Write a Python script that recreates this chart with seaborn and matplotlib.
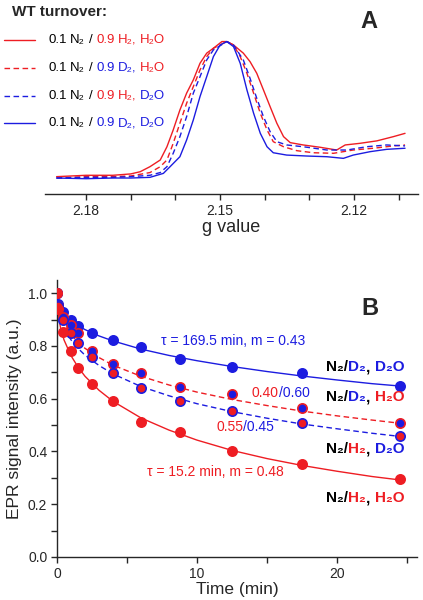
import matplotlib
matplotlib.use('Agg')
import matplotlib.pyplot as plt
import pandas as pd
import seaborn as sns
from matplotlib.lines import Line2D
from matplotlib.offsetbox import TextArea, HPacker, AnnotationBbox, DrawingArea
from matplotlib.ticker import FixedLocator, MultipleLocator, FormatStrFormatter

RED = '#ee1d23'
BLUE = '#1c1ce0'

# ---- Panel A: EPR spectra, g value vs normalised intensity
g_h2_h2o = [2.1866, 2.1800, 2.1740, 2.1700, 2.1679, 2.1657, 2.1634, 2.1619, 2.1605, 2.1590, 2.1575,
            2.1560, 2.1545, 2.1530, 2.1515, 2.1496, 2.1485, 2.1470, 2.1448, 2.1433, 2.1418, 2.1403,
            2.1388, 2.1373, 2.1358, 2.1343, 2.1314, 2.1276, 2.1239, 2.1220, 2.1187, 2.1149, 2.1112, 2.1086]
i_h2_h2o = [0.01, 0.02, 0.02, 0.03, 0.046, 0.083, 0.132, 0.229, 0.352, 0.498, 0.621,
            0.718, 0.840, 0.914, 0.950, 0.999, 0.999, 0.974, 0.914, 0.852, 0.767, 0.645,
            0.522, 0.401, 0.303, 0.259, 0.242, 0.225, 0.205, 0.242, 0.254, 0.272, 0.303, 0.327]

g_d2_h2o = [2.1866, 2.1800, 2.1740, 2.1700, 2.1657, 2.1634, 2.1619, 2.1605, 2.1590, 2.1575, 2.1560,
            2.1545, 2.1530, 2.1515, 2.1485, 2.1470, 2.1455, 2.1440, 2.1425, 2.1410, 2.1395, 2.1381,
            2.1358, 2.1328, 2.1291, 2.1246, 2.1202, 2.1157, 2.1112, 2.1086]
i_d2_h2o = [0.00, 0.01, 0.01, 0.015, 0.04, 0.083, 0.132, 0.254, 0.401, 0.547, 0.669,
            0.791, 0.889, 0.950, 0.999, 0.974, 0.889, 0.767, 0.621, 0.474, 0.352, 0.266,
            0.229, 0.200, 0.185, 0.181, 0.205, 0.218, 0.235, 0.242]

g_h2_d2o = [2.1866, 2.1800, 2.1740, 2.1700, 2.1657, 2.1634, 2.1619, 2.1605, 2.1590, 2.1575, 2.1560,
            2.1545, 2.1530, 2.1515, 2.1485, 2.1470, 2.1448, 2.1433, 2.1418, 2.1403, 2.1388, 2.1373,
            2.1351, 2.1314, 2.1261, 2.1216, 2.1172, 2.1127, 2.1086]
i_h2_d2o = [0.00, 0.005, 0.005, 0.01, 0.02, 0.04, 0.083, 0.181, 0.303, 0.449, 0.621,
            0.742, 0.864, 0.938, 0.999, 0.974, 0.864, 0.730, 0.584, 0.449, 0.339, 0.266,
            0.242, 0.229, 0.205, 0.205, 0.229, 0.242, 0.235]

g_d2_d2o = [2.1866, 2.1800, 2.1740, 2.1700, 2.1657, 2.1627, 2.1612, 2.1590, 2.1575, 2.1560, 2.1545,
            2.1530, 2.1515, 2.1500, 2.1485, 2.1470, 2.1455, 2.1440, 2.1425, 2.1410, 2.1395, 2.1381,
            2.1351, 2.1306, 2.1261, 2.1224, 2.1202, 2.1164, 2.1127, 2.1086]
i_d2_d2o = [0.00, -0.005, 0.0, 0.0, 0.005, 0.034, 0.083, 0.156, 0.278, 0.425, 0.596,
            0.742, 0.889, 0.974, 0.999, 0.962, 0.840, 0.645, 0.474, 0.327, 0.229, 0.185,
            0.168, 0.161, 0.156, 0.144, 0.168, 0.193, 0.210, 0.218]

# ---- Panel B: decay of EPR signal vs time
time_pts = [0, 0.1, 0.4, 1, 1.5, 2.5, 4, 6, 8.8, 12.5, 17.5, 24.5]
pts_d2_d2o = [1.0, 0.96, 0.93, 0.899, 0.876, 0.848, 0.823, 0.795, 0.749, 0.719, 0.696, 0.648]
pts_d2_h2o = [1.0, 0.95, 0.91, 0.88, 0.848, 0.781, 0.732, 0.699, 0.646, 0.616, 0.563, 0.509]
pts_h2_d2o = [1.0, 0.95, 0.90, 0.848, 0.81, 0.759, 0.696, 0.639, 0.592, 0.554, 0.509, 0.459]
pts_h2_h2o = [1.0, 0.94, 0.853, 0.781, 0.715, 0.656, 0.591, 0.511, 0.475, 0.403, 0.353, 0.296]

# fitted curves as drawn in the figure
time_fit = [0, 0.05, 0.1, 0.25, 0.5, 1, 1.5, 2, 3, 4, 6, 8, 10, 12.5, 15, 17.5, 20, 22.5, 24.5]
fit_d2_d2o = [1, 0.970, 0.960, 0.941, 0.922, 0.896, 0.877, 0.862, 0.838, 0.819, 0.788, 0.764,
              0.744, 0.722, 0.703, 0.686, 0.671, 0.657, 0.648]
fit_d2_h2o = [1, 0.957, 0.942, 0.913, 0.882, 0.843, 0.814, 0.791, 0.756, 0.727, 0.685, 0.652,
              0.625, 0.597, 0.574, 0.553, 0.535, 0.519, 0.507]
fit_h2_d2o = [1, 0.952, 0.935, 0.902, 0.868, 0.823, 0.791, 0.765, 0.726, 0.694, 0.646, 0.611,
              0.581, 0.551, 0.526, 0.504, 0.486, 0.469, 0.457]
fit_h2_h2o = [1, 0.938, 0.914, 0.870, 0.823, 0.763, 0.720, 0.685, 0.632, 0.590, 0.527, 0.481,
              0.443, 0.404, 0.373, 0.347, 0.325, 0.305, 0.292]

sns.set_style('ticks')
plt.rcParams['font.family'] = ['Liberation Sans', 'DejaVu Sans']
plt.rcParams['axes.linewidth'] = 1.0

fig = plt.figure(figsize=(4.23, 6.0), dpi=100)
axA = fig.add_axes([45 / 423, 1 - 194 / 600, 373 / 423, 184 / 600])
axB = fig.add_axes([57 / 423, 1 - 557 / 600, 360 / 423, 277 / 600])

DASH = (0, (4, 2.5))
spectra = [
    (g_h2_h2o, i_h2_h2o, RED, '-'),
    (g_d2_h2o, i_d2_h2o, RED, DASH),
    (g_h2_d2o, i_h2_d2o, BLUE, DASH),
    (g_d2_d2o, i_d2_d2o, BLUE, '-'),
]
for g, inten, c, ls in spectra:
    df = pd.DataFrame({'g': g, 'I': inten})
    sns.lineplot(data=df, x='g', y='I', ax=axA, color=c, linewidth=1.0, linestyle=ls,
                 estimator=None, sort=False)

axA.set_xlim(2.1892, 2.1057)
axA.set_ylim(-0.117, 1.23)
for s in ['left', 'top', 'right']:
    axA.spines[s].set_visible(False)
axA.set_yticks([])
axA.set_ylabel('')
axA.xaxis.set_major_locator(FixedLocator([2.18, 2.15, 2.12]))
axA.xaxis.set_minor_locator(MultipleLocator(0.01))
axA.xaxis.set_major_formatter(FormatStrFormatter('%.2f'))
axA.tick_params(axis='x', which='both', direction='out', length=4, width=1, labelsize=10, pad=3)
axA.set_xlabel('g value', fontsize=13, labelpad=1)
axA.text(0.869, 0.935, 'A', transform=axA.transAxes, fontsize=17, fontweight='bold',
         ha='center', va='center')


def colored(ax, pieces, xy, coords, align, size, weight='normal'):
    # a piece of None text is a blank gap (in units of the font size)
    kids = []
    for s, c in pieces:
        if s is None:
            kids.append(DrawingArea(c * size, 0.1))
        else:
            kids.append(TextArea(s, textprops=dict(color=c, fontsize=size, fontweight=weight)))
    box = HPacker(children=kids, align='baseline', pad=0, sep=0)
    ab = AnnotationBbox(box, xy, xycoords=coords, box_alignment=align, frameon=False, pad=0)
    ax.add_artist(ab)


# legend of panel A
fig.text(12 / 423, 1 - 12 / 600, 'WT turnover:', fontsize=11, fontweight='bold',
         ha='left', va='center')
legend_rows = [
    ('H', RED, 'H', RED, '-'),
    ('D', BLUE, 'H', RED, DASH),
    ('H', RED, 'D', BLUE, DASH),
    ('D', BLUE, 'D', BLUE, '-'),
]
row_y = [40, 68, 96, 123]
SP = 0.28
for (gas, gc, sol, sc, ls), y in zip(legend_rows, row_y):
    yf = 1 - y / 600
    fig.add_artist(Line2D([4 / 423, 35 / 423], [yf, yf], transform=fig.transFigure,
                          color=sc, linewidth=1.0, linestyle=ls))
    colored(axA, [('0.1', 'black'), (None, SP), ('N₂', 'black'), (None, SP), ('/', 'black'),
                  (None, SP), ('0.9', gc), (None, SP), (gas + '₂,', gc), (None, SP),
                  (sol + '₂O', sc)],
            (48 / 423, yf), 'figure fraction', (0, 0.5), 9.5)

# ---- Panel B
fits = [
    (fit_d2_d2o, BLUE, '-'),
    (fit_d2_h2o, RED, DASH),
    (fit_h2_d2o, BLUE, DASH),
    (fit_h2_h2o, RED, '-'),
]
for vals, c, ls in fits:
    sns.lineplot(x=time_fit, y=vals, ax=axB, color=c, linewidth=1.0, linestyle=ls,
                 estimator=None, sort=False)

points = [
    (pts_d2_d2o, BLUE, BLUE),
    (pts_d2_h2o, BLUE, RED),
    (pts_h2_d2o, RED, BLUE),
    (pts_h2_h2o, RED, RED),
]
for vals, fc, ec in points:
    sns.scatterplot(x=time_pts, y=vals, ax=axB, color=fc, edgecolor=ec, linewidth=1.2,
                    s=45, zorder=3)

axB.set_xlim(0, 25.7)
axB.set_ylim(0, 1.05)
for s in ['top', 'right']:
    axB.spines[s].set_visible(False)
axB.xaxis.set_major_locator(MultipleLocator(10))
axB.xaxis.set_minor_locator(MultipleLocator(5))
axB.yaxis.set_major_locator(MultipleLocator(0.2))
axB.yaxis.set_minor_locator(MultipleLocator(0.1))
axB.yaxis.set_major_formatter(FormatStrFormatter('%.1f'))
axB.tick_params(which='both', direction='out', length=4, width=1, labelsize=10, pad=3)
axB.set_xlabel('Time (min)', fontsize=12.5, labelpad=1)
axB.set_ylabel('EPR signal intensity (a.u.)', fontsize=12.5, labelpad=4)

axB.text(22.36, 0.943, 'B', fontsize=17, fontweight='bold', ha='center', va='center')
axB.text(12.57, 0.818, 'τ = 169.5 min, m = 0.43', color=BLUE, fontsize=10,
         ha='center', va='center')
axB.text(11.3, 0.322, 'τ = 15.2 min, m = 0.48', color=RED, fontsize=10,
         ha='center', va='center')
colored(axB, [('0.40', RED), ('/0.60', BLUE)], (13.9, 0.621), 'data', (0, 0.5), 10)
colored(axB, [('0.55', RED), ('/0.45', BLUE)], (11.36, 0.492), 'data', (0, 0.5), 10)

right_labels = [
    ('D', BLUE, 'D', BLUE, 0.72),
    ('D', BLUE, 'H', RED, 0.606),
    ('H', RED, 'D', BLUE, 0.409),
    ('H', RED, 'H', RED, 0.223),
]
for gas, gc, sol, sc, yv in right_labels:
    colored(axB, [('N₂/', 'black'), (gas + '₂', gc), (',', 'black'), (None, SP),
                  (sol + '₂O', sc)],
            (24.8, yv), 'data', (1, 0.5), 11, weight='bold')

fig.savefig('out.png', dpi=100)
